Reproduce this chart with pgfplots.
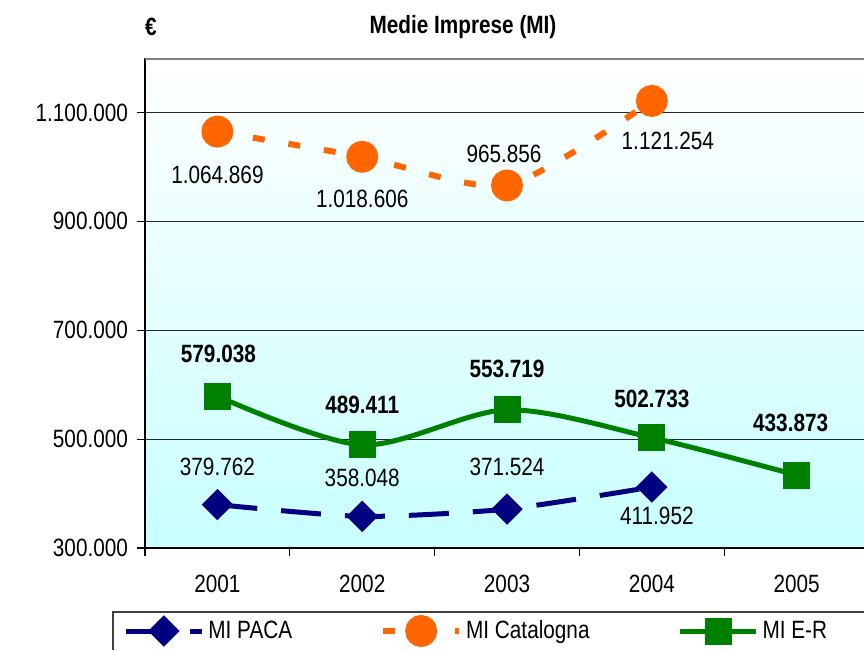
\documentclass[border=0pt]{standalone}
\usepackage{pgfplots}
\pgfplotsset{compat=1.18}
\usepackage{pgfplotstable}
\usepackage{fontspec}
\setmainfont[FakeStretch=0.83]{Liberation Sans}

\definecolor{paca}{RGB}{0,0,128}
\definecolor{cat}{RGB}{255,102,0}
\definecolor{er}{RGB}{0,128,0}
\definecolor{bgbot}{RGB}{200,255,255}

\newcommand{\tl}[1]{\mbox{\fontsize{12.5}{15}\selectfont #1}}

\pgfplotstableread{
x y lab dy dx
0 379762 379.762 19 0
1 358048 358.048 19.5 0
2 371524 371.524 21 0
3 411952 411.952 -14.5 2.5
}\paca

\pgfplotstableread{
x y lab dy dx
0 1064869 1.064.869 -21.5 0
1 1018606 1.018.606 -21 0
2 965856 965.856 16 -1.5
3 1121254 1.121.254 -20 8
}\cat

\pgfplotstableread{
x y lab dy dx
0 579038 579.038 21 0.5
1 489411 489.411 20 0
2 553719 553.719 20.5 0
3 502733 502.733 19.5 0
4 433873 433.873 26 -3
}\er

\begin{document}
\begin{tikzpicture}[font=\fontsize{12.5}{15}\selectfont]
\path[use as bounding box] (0,0) rectangle (432pt,325pt);
\begin{axis}[
  at={(72.5pt,51pt)}, anchor=south west,
  width=359.5pt, height=245pt, scale only axis,
  xmin=-0.5, xmax=4.465, ymin=300000, ymax=1200000,
  axis x line*=bottom, axis y line*=left,
  axis line style={-, black, line width=1pt},
  axis background/.style={shade, top color=white, bottom color=bgbot},
  scaled y ticks=false,
  ytick={300000,500000,700000,900000,1100000},
  yticklabels={\tl{300.000},\tl{500.000},\tl{700.000},\tl{900.000},\tl{1.100.000}},
  yticklabel style={xshift=-1pt},
  ymajorgrids, grid style={black!85, line width=0.6pt},
  tick align=outside, major tick length=4pt,
  tick style={black, line width=0.6pt},
  xtick={-0.5,0.5,1.5,2.5,3.5}, xticklabels={,,,,},
  extra x ticks={0,1,2,3,4},
  extra x tick labels={\tl{2001},\tl{2002},\tl{2003},\tl{2004},\tl{2005}},
  extra x tick style={major tick length=0pt, grid=none,
    xticklabel style={yshift=-10pt}},
  legend columns=3,
  legend cell align=left,
  legend style={draw=none, fill=none, at={(0,0)}, anchor=west,
    xshift=-14pt, yshift=-41.5pt, font=\fontsize{12.5}{15}\selectfont,
    /tikz/every even column/.append style={column sep=42pt}},
  legend image code/.code={\draw[mark repeat=2,mark phase=2,#1]
    plot coordinates {(0pt,0pt) (19pt,0pt) (38pt,0pt)};},
  point meta=explicit symbolic,
  nodes near coords={\pgfplotspointmeta},
  visualization depends on={\thisrow{dy} \as \dy},
  visualization depends on={\thisrow{dx} \as \dx},
  nodes near coords style={anchor=center, text=black, yshift=\dy pt, xshift=\dx pt},
]
\draw[gray, line width=1.5pt] (rel axis cs:0,1) -- (rel axis cs:1,1);

\addplot[color=paca, line width=2.5pt, dash pattern=on 20pt off 12pt,
  smooth, tension=0.4,
  mark=square*, mark size=4.3pt, mark options={solid, fill=paca, rotate=45}]
  table[x=x, y=y, meta=lab] {\paca};
\addlegendentry{MI PACA}

\addplot[color=cat, line width=3pt, dash pattern=on 6pt off 12pt,
  smooth, tension=0.4,
  mark=*, mark size=6.5pt, mark options={solid, fill=cat}]
  table[x=x, y=y, meta=lab] {\cat};
\addlegendentry{MI Catalogna}

\addplot[color=er, line width=2.5pt, smooth, tension=0.5,
  mark=square*, mark size=5.5pt, mark options={solid, fill=er},
  nodes near coords style={font=\fontsize{12.5}{15}\selectfont\bfseries}]
  table[x=x, y=y, meta=lab] {\er};
\addlegendentry{MI E-R}
\end{axis}

\node[font=\fontsize{12.5}{15}\selectfont\bfseries] at (231.5pt,311.5pt) {Medie Imprese (MI)};
\node[font=\fontsize{12.5}{15}\selectfont\bfseries] at (75.5pt,311.5pt) {€};
\draw[black!75, line width=0.8pt] (56.5pt,0pt) -- (56.5pt,19pt) -- (432pt,19pt);
\end{tikzpicture}
\end{document}
